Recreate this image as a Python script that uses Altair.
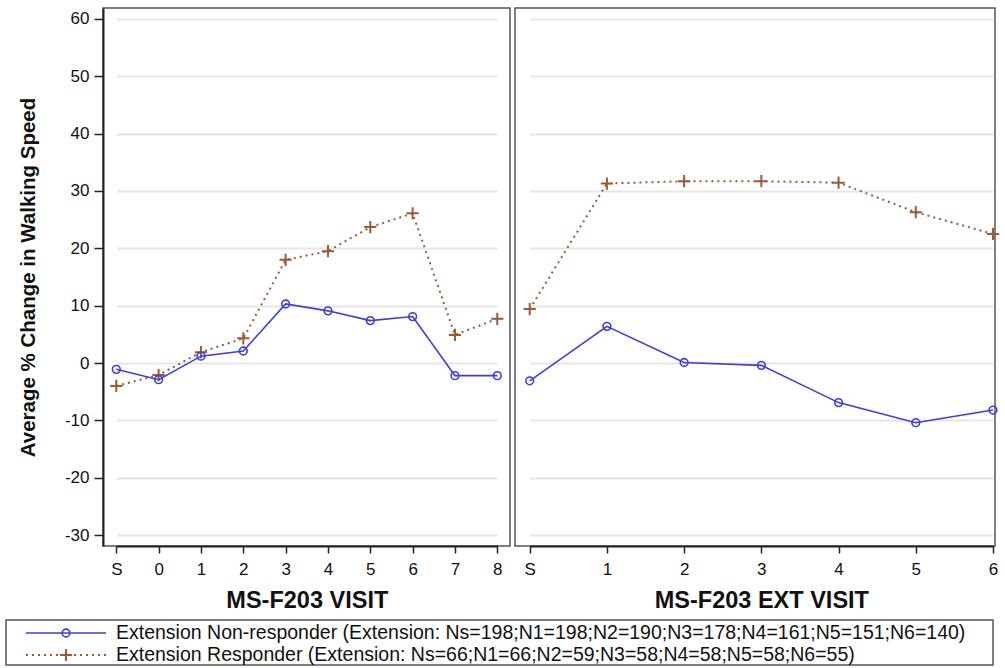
import altair as alt
import pandas as pd

# ---- data ----
visits_main = ["S", "0", "1", "2", "3", "4", "5", "6", "7", "8"]
visits_ext = ["S", "1", "2", "3", "4", "5", "6"]
nonresp_main = [-1.1, -2.9, 1.2, 2.1, 10.3, 9.1, 7.4, 8.1, -2.2, -2.2]
resp_main = [-4.0, -2.1, 1.9, 4.3, 18.0, 19.5, 23.7, 26.1, 4.9, 7.7]
nonresp_ext = [-3.1, 6.4, 0.1, -0.4, -6.9, -10.4, -8.2]
resp_ext = [9.4, 31.3, 31.7, 31.7, 31.45, 26.3, 22.5]
y_ticks = [-30, -20, -10, 0, 10, 20, 30, 40, 50, 60]
series_names = ["Non-responder", "Responder"]
legend_labels = [
    "Extension Non-responder (Extension: Ns=198;N1=198;N2=190;N3=178;N4=161;N5=151;N6=140)",
    "Extension Responder (Extension: Ns=66;N1=66;N2=59;N3=58;N4=58;N5=58;N6=55)",
]
x_titles = ["MS-F203 VISIT", "MS-F203 EXT VISIT"]
y_title = "Average % Change in Walking Speed"

BLUE = "#3d3de0"
BROWN = "#9a5b35"
FONT = "Liberation Sans"
PLUS = "M-1,0L1,0M0,-1L0,1"


def make_df(visits, nr, r):
    rows = []
    for v, a in zip(visits, nr):
        rows.append({"visit": v, "value": a, "series": series_names[0]})
    for v, b in zip(visits, r):
        rows.append({"visit": v, "value": b, "series": series_names[1]})
    return pd.DataFrame(rows)


df_main = make_df(visits_main, nonresp_main, resp_main)
df_ext = make_df(visits_ext, nonresp_ext, resp_ext)

YDOM = [-31.9, 61.9]
H = 538


def panel(df, visits, rng, width, title, show_y):
    if show_y:
        yaxis = alt.Axis(values=y_ticks, title=y_title, grid=True, tickSize=9,
                         labelPadding=5, labelFontSize=17, titleFontSize=20.5,
                         titleFontWeight="bold", titlePadding=26,
                         labelExpr="'' + datum.value",
                         domainColor="#222", domainWidth=2, tickColor="#222",
                         tickWidth=1.5)
    else:
        yaxis = alt.Axis(values=y_ticks, title=None, grid=True, labels=False,
                         ticks=False, domain=False)
    xaxis = alt.Axis(title=title, labelAngle=0, tickSize=7, labelPadding=8,
                     labelFontSize=17, titleFontSize=23.5, titleFontWeight="bold",
                     titlePadding=11, domainColor="#222", domainWidth=2,
                     tickColor="#222", tickWidth=1.5, grid=False)
    base = alt.Chart(df).encode(
        x=alt.X("visit:O", sort=visits,
                scale=alt.Scale(domain=visits, range=rng, padding=0),
                axis=xaxis),
        y=alt.Y("value:Q", scale=alt.Scale(domain=YDOM, nice=False, zero=False),
                axis=yaxis),
    )
    r = base.transform_filter(alt.datum.series == series_names[1])
    nr = base.transform_filter(alt.datum.series == series_names[0])
    layers = [
        r.mark_line(color=BROWN, strokeWidth=2, strokeDash=[2, 4]),
        r.mark_point(shape=PLUS, filled=False, color=BROWN, size=150,
                     strokeWidth=2, opacity=1),
        nr.mark_line(color=BLUE, strokeWidth=1.6),
        nr.mark_point(shape="circle", filled=False, color=BLUE, size=60,
                      strokeWidth=1.6, opacity=1),
    ]
    return alt.layer(*layers).properties(width=width, height=H)


left = panel(df_main, visits_main, [13.3, 394.3], 407, x_titles[0], True)
right = panel(df_ext, visits_ext, [14.7, 478], 480, x_titles[1], False)

# ---- legend ----
leg_df = pd.DataFrame({"series": series_names, "label": legend_labels, "row": [0, 1]})
leg_base = alt.Chart(leg_df).encode(
    y=alt.Y("row:Q", scale=alt.Scale(domain=[0, 1], range=[13, 35]), axis=None)
)
box = alt.Chart(leg_df).transform_filter(alt.datum.row == 0).mark_rect(
    fill="white", stroke="#555", strokeWidth=1.5
).encode(x=alt.value(-97), x2=alt.value(890), y=alt.value(0), y2=alt.value(45))
leg_nr = leg_base.transform_filter(alt.datum.row == 0)
leg_r = leg_base.transform_filter(alt.datum.row == 1)
legend = alt.layer(
    box,
    leg_nr.mark_rule(color=BLUE, strokeWidth=1.6).encode(x=alt.value(-77), x2=alt.value(3)),
    leg_nr.mark_point(shape="circle", filled=False, color=BLUE, size=60,
                      strokeWidth=1.6, opacity=1).encode(x=alt.value(-37)),
    leg_r.mark_rule(color=BROWN, strokeWidth=2, strokeDash=[2, 4]).encode(
        x=alt.value(-77), x2=alt.value(3)),
    leg_r.mark_point(shape=PLUS, filled=False, color=BROWN, size=150,
                     strokeWidth=2, opacity=1).encode(x=alt.value(-37)),
    leg_base.mark_text(align="left", baseline="middle", fontSize=19.5, font=FONT,
                       color="#111").encode(x=alt.value(13), text="label:N"),
).properties(width=870, height=45, view=alt.ViewBackground(stroke="transparent"))

top = alt.hconcat(left, right, spacing=3)
chart = alt.vconcat(top, legend, spacing=5).properties(
    padding={"left": 4, "top": 7, "right": 0, "bottom": 0}
).configure(font=FONT).configure_view(
    stroke="#555", strokeWidth=1.5
).configure_axis(
    labelColor="#111", titleColor="#111", labelFont=FONT, titleFont=FONT,
    gridColor="#e6e6e6", gridWidth=2
)

chart.save("out.html", embed_options={"renderer": "svg", "actions": False})
